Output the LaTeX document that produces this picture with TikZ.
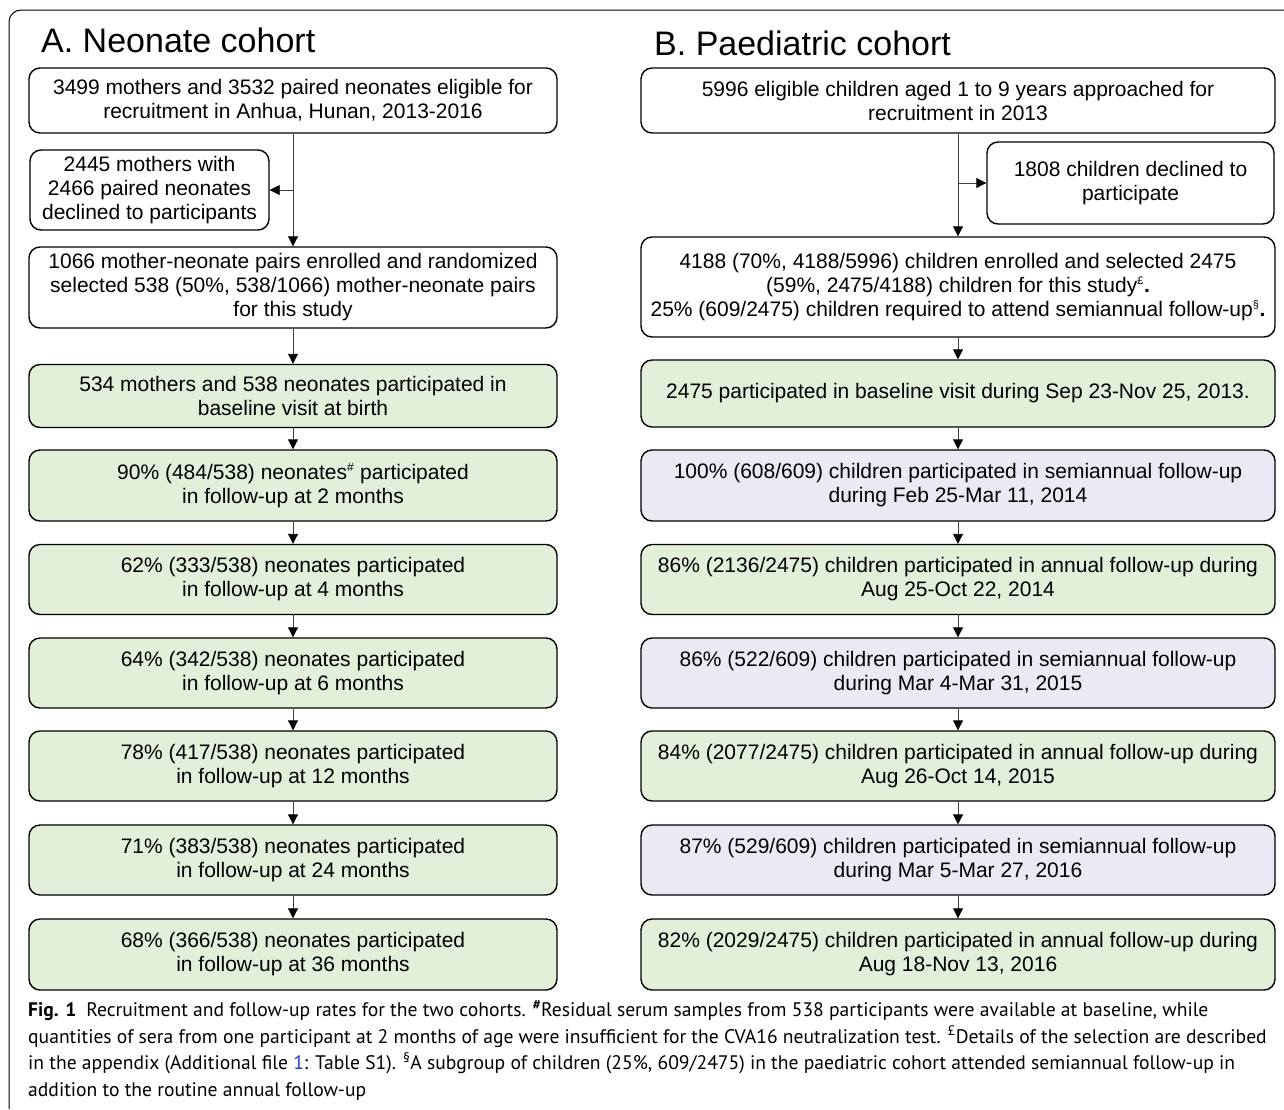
\documentclass[tikz,border=0pt]{standalone}
\usepackage{fontspec}
\setmainfont{Liberation Sans}
\newfontfamily\capfont{PT Sans}
\usetikzlibrary{arrows.meta}
\definecolor{boxgreen}{RGB}{226,240,218}
\definecolor{boxpurple}{RGB}{234,234,244}
\definecolor{linkblue}{RGB}{40,60,220}
\begin{document}
\begin{tikzpicture}[x=1pt,y=-1pt,
  box/.style={draw=black, line width=1.4pt, rounded corners=11pt, align=center, inner sep=0pt,
    font=\fontsize{21}{24}\selectfont},
  lbox/.style={box, minimum width=528pt},
  rbox/.style={box, minimum width=634pt},
  gbox/.style={fill=boxgreen},
  pbox/.style={fill=boxpurple},
  arr/.style={draw=black!75, line width=0.9pt, -{Triangle[black,length=10pt,width=10pt]}},
  ttl/.style={anchor=west, inner sep=0pt, font=\fontsize{34}{40}\selectfont}
]
\useasboundingbox (0,0) rectangle (1284,1109);
\fill[white] (0,0) rectangle (1284,1109);
% outer frame (cropped)
\draw[line width=1pt, rounded corners=12pt] (9,1109) -- (9,10) -- (1290,10);

\node[ttl] (ta) at (41,40) {A. Neonate cohort};
\node[ttl] (tb) at (654,43) {B. Paediatric cohort};

% left column
\node[lbox, minimum height=65pt] (a1) at (293,100.5) {3499 mothers and 3532 paired neonates eligible for\\recruitment in Anhua, Hunan, 2013-2016};
\node[box, minimum width=239pt, minimum height=80pt] (a2) at (149.5,190) {2445 mothers with\\2466 paired neonates\\declined to participants};
\node[lbox, minimum height=81pt] (a3) at (293,287.5) {1066 mother-neonate pairs enrolled and randomized\\selected 538 (50\%, 538/1066) mother-neonate pairs\\for this study};
\node[lbox, gbox, minimum height=63pt] (a4) at (293,396) {534 mothers and 538 neonates participated in\\baseline visit at birth};
\node[lbox, gbox, minimum height=71pt] (a5) at (293,485.5) {90\% (484/538) neonates\textsuperscript{\fontsize{12}{12}\selectfont\#} participated\\in follow-up at 2 months};
\node[lbox, gbox, minimum height=70pt] (a6) at (293,579.5) {62\% (333/538) neonates participated\\in follow-up at 4 months};
\node[lbox, gbox, minimum height=70pt] (a7) at (293,673) {64\% (342/538) neonates participated\\in follow-up at 6 months};
\node[lbox, gbox, minimum height=70pt] (a8) at (293,766) {78\% (417/538) neonates participated\\in follow-up at 12 months};
\node[lbox, gbox, minimum height=70pt] (a9) at (293,860) {71\% (383/538) neonates participated\\in follow-up at 24 months};
\node[lbox, gbox, minimum height=71pt] (a10) at (293,954.5) {68\% (366/538) neonates participated\\in follow-up at 36 months};

\draw[arr] (a1.south) -- (a3.north);
\draw[arr] (a2.east -| a1.south) -- (a2.east);
\draw[arr] (a3) -- (a4);
\draw[arr] (a4) -- (a5);
\draw[arr] (a5) -- (a6);
\draw[arr] (a6) -- (a7);
\draw[arr] (a7) -- (a8);
\draw[arr] (a8) -- (a9);
\draw[arr] (a9) -- (a10);

% right column
\node[rbox, minimum height=65pt] (b1) at (958,100.5) {5996 eligible children aged 1 to 9 years approached for\\recruitment in 2013};
\node[box, minimum width=287pt, minimum height=82pt] (b2) at (1130.5,183) {1808 children declined to\\participate};
\node[rbox, minimum height=100pt] (b3) at (958,287) {4188 (70\%, 4188/5996) children enrolled and selected 2475\\(59\%, 2475/4188) children for this study\textsuperscript{\fontsize{11}{11}\selectfont £}\textbf{.}\\25\% (609/2475) children required to attend semiannual follow-up\textsuperscript{\fontsize{11}{11}\selectfont §}\textbf{.}};
\node[rbox, gbox, minimum height=67pt] (b4) at (958,393.5) {2475 participated in baseline visit during Sep 23-Nov 25, 2013.};
\node[rbox, pbox, minimum height=71pt] (b5) at (958,485.5) {100\% (608/609) children participated in semiannual follow-up\\during Feb 25-Mar 11, 2014};
\node[rbox, gbox, minimum height=70pt] (b6) at (958,579.5) {86\% (2136/2475) children participated in annual follow-up during\\Aug 25-Oct 22, 2014};
\node[rbox, pbox, minimum height=70pt] (b7) at (958,673) {86\% (522/609) children participated in semiannual follow-up\\during Mar 4-Mar 31, 2015};
\node[rbox, gbox, minimum height=70pt] (b8) at (958,766) {84\% (2077/2475) children participated in annual follow-up during\\Aug 26-Oct 14, 2015};
\node[rbox, pbox, minimum height=70pt] (b9) at (958,860) {87\% (529/609) children participated in semiannual follow-up\\during Mar 5-Mar 27, 2016};
\node[rbox, gbox, minimum height=71pt] (b10) at (958,954.5) {82\% (2029/2475) children participated in annual follow-up during\\Aug 18-Nov 13, 2016};

\draw[arr] (b1.south) -- (b3.north);
\draw[arr] (b2.west -| b1.south) -- (b2.west);
\draw[arr] (b3) -- (b4);
\draw[arr] (b4) -- (b5);
\draw[arr] (b5) -- (b6);
\draw[arr] (b6) -- (b7);
\draw[arr] (b7) -- (b8);
\draw[arr] (b8) -- (b9);
\draw[arr] (b9) -- (b10);

% caption
\node[anchor=north west, align=left, inner sep=0pt, font=\capfont\fontsize{19.6}{26.5}\selectfont] (cap) at (28,1000)
{\textbf{Fig. 1}\enspace Recruitment and follow-up rates for the two cohorts. \textsuperscript{\textbf{\#}}Residual serum samples from 538 participants were available at baseline, while\\
quantities of sera from one participant at 2 months of age were insufficient for the CVA16 neutralization test. \textsuperscript{£}Details of the selection are described\\
in the appendix (Additional file \textcolor{linkblue}{1}: Table S1). \textsuperscript{§}A subgroup of children (25\%, 609/2475) in the paediatric cohort attended semiannual follow-up in\\
addition to the routine annual follow-up};
\end{tikzpicture}
\end{document}
